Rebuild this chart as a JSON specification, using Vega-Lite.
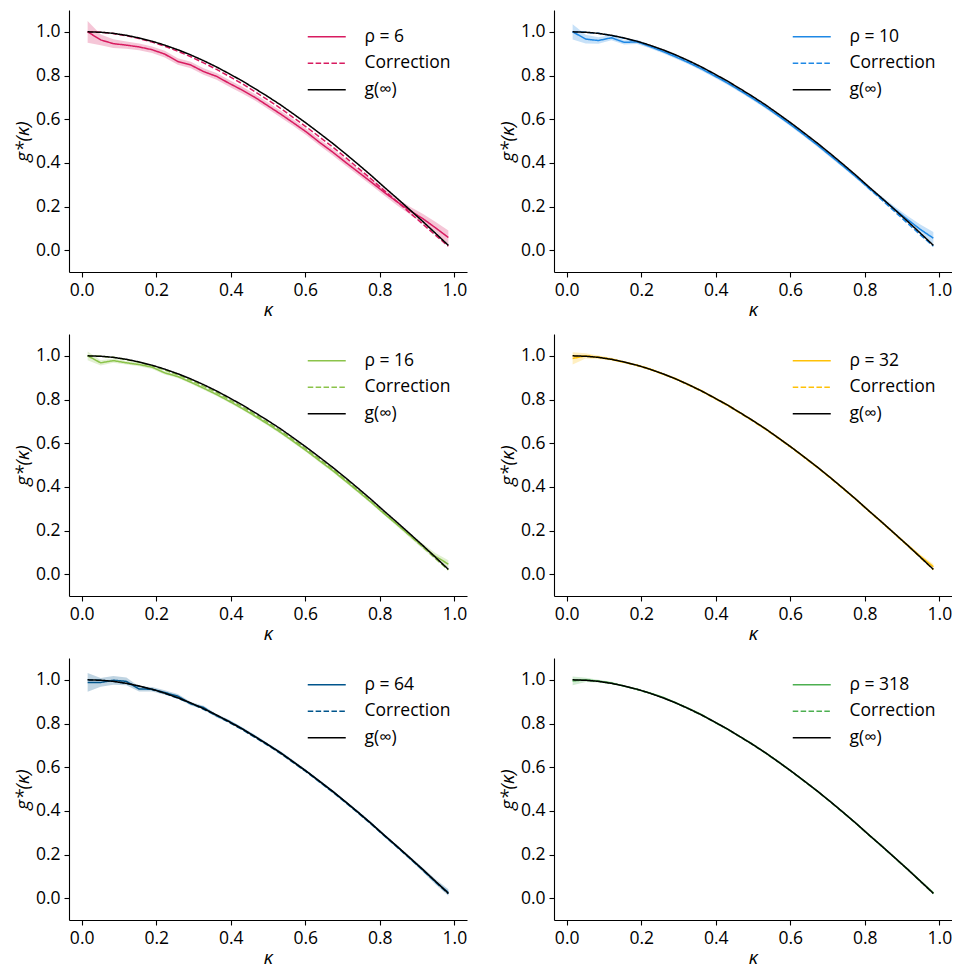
{
"$schema":"https://vega.github.io/schema/vega-lite/v6.json",
"padding":{"left":13,"top":10,"right":0,"bottom":6},
"columns":2,
"bounds":"flush",
"spacing":{"row":62,"column":87},
"data":{"values":[
{"p":1,"k":0.016,"g":1.000,"lo":0.950,"hi":1.050,"c":1.000,"inf":1.000},
{"p":1,"k":0.051,"g":0.963,"lo":0.938,"hi":0.988,"c":0.998,"inf":0.998},
{"p":1,"k":0.085,"g":0.946,"lo":0.926,"hi":0.966,"c":0.992,"inf":0.993},
{"p":1,"k":0.120,"g":0.939,"lo":0.922,"hi":0.956,"c":0.982,"inf":0.984},
{"p":1,"k":0.154,"g":0.931,"lo":0.916,"hi":0.946,"c":0.969,"inf":0.972},
{"p":1,"k":0.189,"g":0.918,"lo":0.903,"hi":0.933,"c":0.953,"inf":0.957},
{"p":1,"k":0.223,"g":0.898,"lo":0.883,"hi":0.913,"c":0.934,"inf":0.939},
{"p":1,"k":0.258,"g":0.864,"lo":0.849,"hi":0.879,"c":0.911,"inf":0.918},
{"p":1,"k":0.293,"g":0.848,"lo":0.833,"hi":0.863,"c":0.886,"inf":0.894},
{"p":1,"k":0.327,"g":0.818,"lo":0.803,"hi":0.833,"c":0.858,"inf":0.868},
{"p":1,"k":0.362,"g":0.796,"lo":0.781,"hi":0.811,"c":0.828,"inf":0.839},
{"p":1,"k":0.396,"g":0.764,"lo":0.749,"hi":0.779,"c":0.796,"inf":0.808},
{"p":1,"k":0.431,"g":0.733,"lo":0.718,"hi":0.748,"c":0.762,"inf":0.775},
{"p":1,"k":0.465,"g":0.700,"lo":0.685,"hi":0.715,"c":0.726,"inf":0.740},
{"p":1,"k":0.500,"g":0.661,"lo":0.646,"hi":0.676,"c":0.688,"inf":0.703},
{"p":1,"k":0.535,"g":0.622,"lo":0.607,"hi":0.637,"c":0.648,"inf":0.664},
{"p":1,"k":0.569,"g":0.582,"lo":0.567,"hi":0.597,"c":0.606,"inf":0.623},
{"p":1,"k":0.604,"g":0.540,"lo":0.525,"hi":0.555,"c":0.563,"inf":0.580},
{"p":1,"k":0.638,"g":0.494,"lo":0.479,"hi":0.509,"c":0.519,"inf":0.536},
{"p":1,"k":0.673,"g":0.450,"lo":0.435,"hi":0.465,"c":0.473,"inf":0.490},
{"p":1,"k":0.707,"g":0.404,"lo":0.389,"hi":0.419,"c":0.426,"inf":0.443},
{"p":1,"k":0.742,"g":0.358,"lo":0.343,"hi":0.373,"c":0.376,"inf":0.393},
{"p":1,"k":0.777,"g":0.312,"lo":0.297,"hi":0.327,"c":0.326,"inf":0.342},
{"p":1,"k":0.811,"g":0.266,"lo":0.251,"hi":0.281,"c":0.274,"inf":0.290},
{"p":1,"k":0.846,"g":0.222,"lo":0.206,"hi":0.238,"c":0.223,"inf":0.238},
{"p":1,"k":0.880,"g":0.182,"lo":0.164,"hi":0.200,"c":0.172,"inf":0.186},
{"p":1,"k":0.915,"g":0.145,"lo":0.123,"hi":0.167,"c":0.120,"inf":0.132},
{"p":1,"k":0.949,"g":0.103,"lo":0.076,"hi":0.130,"c":0.069,"inf":0.078},
{"p":1,"k":0.984,"g":0.058,"lo":0.026,"hi":0.090,"c":0.018,"inf":0.022},
{"p":2,"k":0.016,"g":1.000,"lo":0.965,"hi":1.035,"c":1.000,"inf":1.000},
{"p":2,"k":0.051,"g":0.967,"lo":0.947,"hi":0.987,"c":0.998,"inf":0.998},
{"p":2,"k":0.085,"g":0.960,"lo":0.945,"hi":0.975,"c":0.993,"inf":0.993},
{"p":2,"k":0.120,"g":0.973,"lo":0.961,"hi":0.985,"c":0.983,"inf":0.984},
{"p":2,"k":0.154,"g":0.952,"lo":0.942,"hi":0.962,"c":0.971,"inf":0.972},
{"p":2,"k":0.189,"g":0.954,"lo":0.944,"hi":0.964,"c":0.955,"inf":0.957},
{"p":2,"k":0.223,"g":0.933,"lo":0.925,"hi":0.941,"c":0.937,"inf":0.939},
{"p":2,"k":0.258,"g":0.910,"lo":0.902,"hi":0.918,"c":0.915,"inf":0.918},
{"p":2,"k":0.293,"g":0.885,"lo":0.877,"hi":0.893,"c":0.891,"inf":0.894},
{"p":2,"k":0.327,"g":0.859,"lo":0.851,"hi":0.867,"c":0.864,"inf":0.868},
{"p":2,"k":0.362,"g":0.830,"lo":0.822,"hi":0.838,"c":0.835,"inf":0.839},
{"p":2,"k":0.396,"g":0.799,"lo":0.791,"hi":0.807,"c":0.803,"inf":0.808},
{"p":2,"k":0.431,"g":0.766,"lo":0.758,"hi":0.774,"c":0.770,"inf":0.775},
{"p":2,"k":0.465,"g":0.731,"lo":0.723,"hi":0.739,"c":0.735,"inf":0.740},
{"p":2,"k":0.500,"g":0.694,"lo":0.686,"hi":0.702,"c":0.697,"inf":0.703},
{"p":2,"k":0.535,"g":0.655,"lo":0.647,"hi":0.663,"c":0.658,"inf":0.664},
{"p":2,"k":0.569,"g":0.614,"lo":0.606,"hi":0.622,"c":0.617,"inf":0.623},
{"p":2,"k":0.604,"g":0.571,"lo":0.563,"hi":0.579,"c":0.574,"inf":0.580},
{"p":2,"k":0.638,"g":0.527,"lo":0.519,"hi":0.535,"c":0.530,"inf":0.536},
{"p":2,"k":0.673,"g":0.481,"lo":0.473,"hi":0.489,"c":0.484,"inf":0.490},
{"p":2,"k":0.707,"g":0.434,"lo":0.426,"hi":0.442,"c":0.437,"inf":0.443},
{"p":2,"k":0.742,"g":0.385,"lo":0.377,"hi":0.393,"c":0.387,"inf":0.393},
{"p":2,"k":0.777,"g":0.335,"lo":0.327,"hi":0.343,"c":0.336,"inf":0.342},
{"p":2,"k":0.811,"g":0.285,"lo":0.277,"hi":0.293,"c":0.283,"inf":0.290},
{"p":2,"k":0.846,"g":0.236,"lo":0.226,"hi":0.246,"c":0.230,"inf":0.238},
{"p":2,"k":0.880,"g":0.188,"lo":0.176,"hi":0.200,"c":0.177,"inf":0.186},
{"p":2,"k":0.915,"g":0.140,"lo":0.124,"hi":0.156,"c":0.123,"inf":0.132},
{"p":2,"k":0.949,"g":0.095,"lo":0.073,"hi":0.117,"c":0.070,"inf":0.078},
{"p":2,"k":0.984,"g":0.055,"lo":0.027,"hi":0.083,"c":0.018,"inf":0.022},
{"p":3,"k":0.016,"g":1.000,"lo":0.980,"hi":1.020,"c":1.000,"inf":1.000},
{"p":3,"k":0.051,"g":0.968,"lo":0.956,"hi":0.980,"c":0.998,"inf":0.998},
{"p":3,"k":0.085,"g":0.978,"lo":0.968,"hi":0.988,"c":0.993,"inf":0.993},
{"p":3,"k":0.120,"g":0.968,"lo":0.960,"hi":0.976,"c":0.983,"inf":0.984},
{"p":3,"k":0.154,"g":0.960,"lo":0.952,"hi":0.968,"c":0.970,"inf":0.972},
{"p":3,"k":0.189,"g":0.948,"lo":0.940,"hi":0.956,"c":0.954,"inf":0.957},
{"p":3,"k":0.223,"g":0.922,"lo":0.915,"hi":0.929,"c":0.935,"inf":0.939},
{"p":3,"k":0.258,"g":0.905,"lo":0.898,"hi":0.912,"c":0.913,"inf":0.918},
{"p":3,"k":0.293,"g":0.879,"lo":0.872,"hi":0.886,"c":0.888,"inf":0.894},
{"p":3,"k":0.327,"g":0.852,"lo":0.845,"hi":0.859,"c":0.861,"inf":0.868},
{"p":3,"k":0.362,"g":0.823,"lo":0.816,"hi":0.830,"c":0.832,"inf":0.839},
{"p":3,"k":0.396,"g":0.792,"lo":0.785,"hi":0.799,"c":0.800,"inf":0.808},
{"p":3,"k":0.431,"g":0.759,"lo":0.752,"hi":0.766,"c":0.767,"inf":0.775},
{"p":3,"k":0.465,"g":0.724,"lo":0.717,"hi":0.731,"c":0.731,"inf":0.740},
{"p":3,"k":0.500,"g":0.687,"lo":0.680,"hi":0.694,"c":0.694,"inf":0.703},
{"p":3,"k":0.535,"g":0.648,"lo":0.641,"hi":0.655,"c":0.655,"inf":0.664},
{"p":3,"k":0.569,"g":0.607,"lo":0.600,"hi":0.614,"c":0.614,"inf":0.623},
{"p":3,"k":0.604,"g":0.564,"lo":0.557,"hi":0.571,"c":0.571,"inf":0.580},
{"p":3,"k":0.638,"g":0.520,"lo":0.513,"hi":0.527,"c":0.527,"inf":0.536},
{"p":3,"k":0.673,"g":0.475,"lo":0.468,"hi":0.482,"c":0.481,"inf":0.490},
{"p":3,"k":0.707,"g":0.428,"lo":0.421,"hi":0.435,"c":0.434,"inf":0.443},
{"p":3,"k":0.742,"g":0.379,"lo":0.372,"hi":0.386,"c":0.384,"inf":0.393},
{"p":3,"k":0.777,"g":0.329,"lo":0.322,"hi":0.336,"c":0.333,"inf":0.342},
{"p":3,"k":0.811,"g":0.278,"lo":0.271,"hi":0.285,"c":0.281,"inf":0.290},
{"p":3,"k":0.846,"g":0.228,"lo":0.220,"hi":0.236,"c":0.230,"inf":0.238},
{"p":3,"k":0.880,"g":0.178,"lo":0.168,"hi":0.188,"c":0.178,"inf":0.186},
{"p":3,"k":0.915,"g":0.128,"lo":0.116,"hi":0.140,"c":0.125,"inf":0.132},
{"p":3,"k":0.949,"g":0.082,"lo":0.067,"hi":0.097,"c":0.072,"inf":0.078},
{"p":3,"k":0.984,"g":0.046,"lo":0.028,"hi":0.064,"c":0.019,"inf":0.022},
{"p":4,"k":0.016,"g":0.988,"lo":0.960,"hi":1.016,"c":1.000,"inf":1.000},
{"p":4,"k":0.051,"g":1.000,"lo":0.988,"hi":1.012,"c":0.998,"inf":0.998},
{"p":4,"k":0.085,"g":0.994,"lo":0.986,"hi":1.002,"c":0.993,"inf":0.993},
{"p":4,"k":0.120,"g":0.985,"lo":0.979,"hi":0.991,"c":0.984,"inf":0.984},
{"p":4,"k":0.154,"g":0.971,"lo":0.966,"hi":0.976,"c":0.971,"inf":0.972},
{"p":4,"k":0.189,"g":0.957,"lo":0.952,"hi":0.962,"c":0.956,"inf":0.957},
{"p":4,"k":0.223,"g":0.940,"lo":0.935,"hi":0.945,"c":0.938,"inf":0.939},
{"p":4,"k":0.258,"g":0.917,"lo":0.912,"hi":0.922,"c":0.917,"inf":0.918},
{"p":4,"k":0.293,"g":0.895,"lo":0.890,"hi":0.900,"c":0.893,"inf":0.894},
{"p":4,"k":0.327,"g":0.868,"lo":0.863,"hi":0.873,"c":0.866,"inf":0.868},
{"p":4,"k":0.362,"g":0.840,"lo":0.835,"hi":0.845,"c":0.837,"inf":0.839},
{"p":4,"k":0.396,"g":0.808,"lo":0.803,"hi":0.813,"c":0.806,"inf":0.808},
{"p":4,"k":0.431,"g":0.776,"lo":0.771,"hi":0.781,"c":0.773,"inf":0.775},
{"p":4,"k":0.465,"g":0.740,"lo":0.735,"hi":0.745,"c":0.738,"inf":0.740},
{"p":4,"k":0.500,"g":0.703,"lo":0.698,"hi":0.708,"c":0.701,"inf":0.703},
{"p":4,"k":0.535,"g":0.664,"lo":0.659,"hi":0.669,"c":0.662,"inf":0.664},
{"p":4,"k":0.569,"g":0.623,"lo":0.618,"hi":0.628,"c":0.621,"inf":0.623},
{"p":4,"k":0.604,"g":0.580,"lo":0.575,"hi":0.585,"c":0.578,"inf":0.580},
{"p":4,"k":0.638,"g":0.536,"lo":0.531,"hi":0.541,"c":0.534,"inf":0.536},
{"p":4,"k":0.673,"g":0.490,"lo":0.485,"hi":0.495,"c":0.488,"inf":0.490},
{"p":4,"k":0.707,"g":0.443,"lo":0.438,"hi":0.448,"c":0.441,"inf":0.443},
{"p":4,"k":0.742,"g":0.393,"lo":0.388,"hi":0.398,"c":0.391,"inf":0.393},
{"p":4,"k":0.777,"g":0.342,"lo":0.337,"hi":0.347,"c":0.340,"inf":0.342},
{"p":4,"k":0.811,"g":0.290,"lo":0.285,"hi":0.295,"c":0.288,"inf":0.290},
{"p":4,"k":0.846,"g":0.238,"lo":0.233,"hi":0.243,"c":0.236,"inf":0.238},
{"p":4,"k":0.880,"g":0.186,"lo":0.181,"hi":0.191,"c":0.184,"inf":0.186},
{"p":4,"k":0.915,"g":0.133,"lo":0.127,"hi":0.139,"c":0.130,"inf":0.132},
{"p":4,"k":0.949,"g":0.082,"lo":0.074,"hi":0.090,"c":0.076,"inf":0.078},
{"p":4,"k":0.984,"g":0.034,"lo":0.022,"hi":0.046,"c":0.021,"inf":0.022},
{"p":5,"k":0.016,"g":0.988,"lo":0.945,"hi":1.031,"c":1.000,"inf":1.000},
{"p":5,"k":0.051,"g":0.988,"lo":0.968,"hi":1.008,"c":0.998,"inf":0.998},
{"p":5,"k":0.085,"g":0.998,"lo":0.978,"hi":1.018,"c":0.993,"inf":0.993},
{"p":5,"k":0.120,"g":0.993,"lo":0.975,"hi":1.011,"c":0.984,"inf":0.984},
{"p":5,"k":0.154,"g":0.958,"lo":0.946,"hi":0.970,"c":0.971,"inf":0.972},
{"p":5,"k":0.189,"g":0.957,"lo":0.947,"hi":0.967,"c":0.956,"inf":0.957},
{"p":5,"k":0.223,"g":0.942,"lo":0.932,"hi":0.952,"c":0.938,"inf":0.939},
{"p":5,"k":0.258,"g":0.925,"lo":0.915,"hi":0.935,"c":0.916,"inf":0.918},
{"p":5,"k":0.293,"g":0.890,"lo":0.882,"hi":0.898,"c":0.892,"inf":0.894},
{"p":5,"k":0.327,"g":0.873,"lo":0.865,"hi":0.881,"c":0.865,"inf":0.868},
{"p":5,"k":0.362,"g":0.836,"lo":0.828,"hi":0.844,"c":0.836,"inf":0.839},
{"p":5,"k":0.396,"g":0.810,"lo":0.803,"hi":0.817,"c":0.805,"inf":0.808},
{"p":5,"k":0.431,"g":0.776,"lo":0.769,"hi":0.783,"c":0.772,"inf":0.775},
{"p":5,"k":0.465,"g":0.741,"lo":0.734,"hi":0.748,"c":0.737,"inf":0.740},
{"p":5,"k":0.500,"g":0.703,"lo":0.696,"hi":0.710,"c":0.700,"inf":0.703},
{"p":5,"k":0.535,"g":0.665,"lo":0.658,"hi":0.672,"c":0.661,"inf":0.664},
{"p":5,"k":0.569,"g":0.623,"lo":0.616,"hi":0.630,"c":0.620,"inf":0.623},
{"p":5,"k":0.604,"g":0.580,"lo":0.573,"hi":0.587,"c":0.577,"inf":0.580},
{"p":5,"k":0.638,"g":0.535,"lo":0.528,"hi":0.542,"c":0.533,"inf":0.536},
{"p":5,"k":0.673,"g":0.490,"lo":0.483,"hi":0.497,"c":0.487,"inf":0.490},
{"p":5,"k":0.707,"g":0.442,"lo":0.435,"hi":0.449,"c":0.440,"inf":0.443},
{"p":5,"k":0.742,"g":0.393,"lo":0.386,"hi":0.400,"c":0.390,"inf":0.393},
{"p":5,"k":0.777,"g":0.342,"lo":0.335,"hi":0.349,"c":0.339,"inf":0.342},
{"p":5,"k":0.811,"g":0.289,"lo":0.282,"hi":0.296,"c":0.287,"inf":0.290},
{"p":5,"k":0.846,"g":0.237,"lo":0.230,"hi":0.244,"c":0.235,"inf":0.238},
{"p":5,"k":0.880,"g":0.185,"lo":0.177,"hi":0.193,"c":0.183,"inf":0.186},
{"p":5,"k":0.915,"g":0.131,"lo":0.121,"hi":0.141,"c":0.129,"inf":0.132},
{"p":5,"k":0.949,"g":0.076,"lo":0.064,"hi":0.088,"c":0.075,"inf":0.078},
{"p":5,"k":0.984,"g":0.026,"lo":0.011,"hi":0.041,"c":0.020,"inf":0.022},
{"p":6,"k":0.016,"g":0.995,"lo":0.975,"hi":1.015,"c":1.000,"inf":1.000},
{"p":6,"k":0.051,"g":1.000,"lo":0.990,"hi":1.010,"c":0.998,"inf":0.998},
{"p":6,"k":0.085,"g":0.994,"lo":0.988,"hi":1.000,"c":0.993,"inf":0.993},
{"p":6,"k":0.120,"g":0.986,"lo":0.981,"hi":0.991,"c":0.984,"inf":0.984},
{"p":6,"k":0.154,"g":0.971,"lo":0.967,"hi":0.975,"c":0.972,"inf":0.972},
{"p":6,"k":0.189,"g":0.956,"lo":0.952,"hi":0.960,"c":0.957,"inf":0.957},
{"p":6,"k":0.223,"g":0.940,"lo":0.936,"hi":0.944,"c":0.939,"inf":0.939},
{"p":6,"k":0.258,"g":0.920,"lo":0.916,"hi":0.924,"c":0.918,"inf":0.918},
{"p":6,"k":0.293,"g":0.895,"lo":0.891,"hi":0.899,"c":0.894,"inf":0.894},
{"p":6,"k":0.327,"g":0.869,"lo":0.865,"hi":0.873,"c":0.867,"inf":0.868},
{"p":6,"k":0.362,"g":0.841,"lo":0.837,"hi":0.845,"c":0.838,"inf":0.839},
{"p":6,"k":0.396,"g":0.808,"lo":0.804,"hi":0.812,"c":0.807,"inf":0.808},
{"p":6,"k":0.431,"g":0.775,"lo":0.771,"hi":0.779,"c":0.774,"inf":0.775},
{"p":6,"k":0.465,"g":0.740,"lo":0.736,"hi":0.744,"c":0.739,"inf":0.740},
{"p":6,"k":0.500,"g":0.704,"lo":0.700,"hi":0.708,"c":0.702,"inf":0.703},
{"p":6,"k":0.535,"g":0.664,"lo":0.660,"hi":0.668,"c":0.663,"inf":0.664},
{"p":6,"k":0.569,"g":0.624,"lo":0.620,"hi":0.628,"c":0.622,"inf":0.623},
{"p":6,"k":0.604,"g":0.580,"lo":0.576,"hi":0.584,"c":0.579,"inf":0.580},
{"p":6,"k":0.638,"g":0.536,"lo":0.532,"hi":0.540,"c":0.535,"inf":0.536},
{"p":6,"k":0.673,"g":0.490,"lo":0.486,"hi":0.494,"c":0.489,"inf":0.490},
{"p":6,"k":0.707,"g":0.443,"lo":0.439,"hi":0.447,"c":0.442,"inf":0.443},
{"p":6,"k":0.742,"g":0.393,"lo":0.389,"hi":0.397,"c":0.392,"inf":0.393},
{"p":6,"k":0.777,"g":0.342,"lo":0.338,"hi":0.346,"c":0.341,"inf":0.342},
{"p":6,"k":0.811,"g":0.290,"lo":0.286,"hi":0.294,"c":0.289,"inf":0.290},
{"p":6,"k":0.846,"g":0.238,"lo":0.234,"hi":0.242,"c":0.237,"inf":0.238},
{"p":6,"k":0.880,"g":0.186,"lo":0.182,"hi":0.190,"c":0.185,"inf":0.186},
{"p":6,"k":0.915,"g":0.133,"lo":0.129,"hi":0.137,"c":0.131,"inf":0.132},
{"p":6,"k":0.949,"g":0.079,"lo":0.074,"hi":0.084,"c":0.077,"inf":0.078},
{"p":6,"k":0.984,"g":0.024,"lo":0.018,"hi":0.030,"c":0.021,"inf":0.022}
]},
"resolve":{"scale":{"color":"independent","strokeDash":"independent","x":"independent","y":"independent"},"legend":{"color":"independent","strokeDash":"independent"}},
"concat":[
{"width":398,"height":262,"transform":[{"filter":"datum.p==1"}],"layer":[
 {"mark":{"type":"area","color":"#D81B60","opacity":0.25},"encoding":{"x":{"field":"k","type":"quantitative","scale":{"domain":[-0.034,1.034],"nice":false,"zero":false},"axis":{"values":[0,0.2,0.4,0.6,0.8,1],"format":".1f","title":"κ"}},"y":{"field":"lo","type":"quantitative","scale":{"domain":[-0.1,1.1],"nice":false,"zero":false},"axis":{"values":[0,0.2,0.4,0.6,0.8,1],"format":".1f","title":"g*(κ)"}},"y2":{"field":"hi"}}},
 {"transform":[{"fold":["g","c","inf"],"as":["s","v"]}],"mark":{"type":"line","strokeWidth":1.5},"encoding":{"x":{"field":"k","type":"quantitative"},"y":{"field":"v","type":"quantitative"},
  "color":{"field":"s","type":"nominal","scale":{"domain":["g","c","inf"],"range":["#D81B60","#D81B60","#000000"]},"legend":{"labelExpr":"datum.label=='g'?'ρ = 6':datum.label=='c'?'Correction':'g(∞)'"}},
  "strokeDash":{"field":"s","type":"nominal","scale":{"domain":["g","c","inf"],"range":[[1,0],[5.5,2.4],[1,0]]},"legend":{"labelExpr":"datum.label=='g'?'ρ = 6':datum.label=='c'?'Correction':'g(∞)'"}}}}
]},
{"width":398,"height":262,"transform":[{"filter":"datum.p==2"}],"layer":[
 {"mark":{"type":"area","color":"#1E88E5","opacity":0.25},"encoding":{"x":{"field":"k","type":"quantitative","scale":{"domain":[-0.034,1.034],"nice":false,"zero":false},"axis":{"values":[0,0.2,0.4,0.6,0.8,1],"format":".1f","title":"κ"}},"y":{"field":"lo","type":"quantitative","scale":{"domain":[-0.1,1.1],"nice":false,"zero":false},"axis":{"values":[0,0.2,0.4,0.6,0.8,1],"format":".1f","title":"g*(κ)"}},"y2":{"field":"hi"}}},
 {"transform":[{"fold":["g","c","inf"],"as":["s","v"]}],"mark":{"type":"line","strokeWidth":1.5},"encoding":{"x":{"field":"k","type":"quantitative"},"y":{"field":"v","type":"quantitative"},
  "color":{"field":"s","type":"nominal","scale":{"domain":["g","c","inf"],"range":["#1E88E5","#1E88E5","#000000"]},"legend":{"labelExpr":"datum.label=='g'?'ρ = 10':datum.label=='c'?'Correction':'g(∞)'"}},
  "strokeDash":{"field":"s","type":"nominal","scale":{"domain":["g","c","inf"],"range":[[1,0],[5.5,2.4],[1,0]]},"legend":{"labelExpr":"datum.label=='g'?'ρ = 10':datum.label=='c'?'Correction':'g(∞)'"}}}}
]},
{"width":398,"height":262,"transform":[{"filter":"datum.p==3"}],"layer":[
 {"mark":{"type":"area","color":"#8BC34A","opacity":0.25},"encoding":{"x":{"field":"k","type":"quantitative","scale":{"domain":[-0.034,1.034],"nice":false,"zero":false},"axis":{"values":[0,0.2,0.4,0.6,0.8,1],"format":".1f","title":"κ"}},"y":{"field":"lo","type":"quantitative","scale":{"domain":[-0.1,1.1],"nice":false,"zero":false},"axis":{"values":[0,0.2,0.4,0.6,0.8,1],"format":".1f","title":"g*(κ)"}},"y2":{"field":"hi"}}},
 {"transform":[{"fold":["g","c","inf"],"as":["s","v"]}],"mark":{"type":"line","strokeWidth":1.5},"encoding":{"x":{"field":"k","type":"quantitative"},"y":{"field":"v","type":"quantitative"},
  "color":{"field":"s","type":"nominal","scale":{"domain":["g","c","inf"],"range":["#8BC34A","#8BC34A","#000000"]},"legend":{"labelExpr":"datum.label=='g'?'ρ = 16':datum.label=='c'?'Correction':'g(∞)'"}},
  "strokeDash":{"field":"s","type":"nominal","scale":{"domain":["g","c","inf"],"range":[[1,0],[5.5,2.4],[1,0]]},"legend":{"labelExpr":"datum.label=='g'?'ρ = 16':datum.label=='c'?'Correction':'g(∞)'"}}}}
]},
{"width":398,"height":262,"transform":[{"filter":"datum.p==4"}],"layer":[
 {"mark":{"type":"area","color":"#FFC107","opacity":0.25},"encoding":{"x":{"field":"k","type":"quantitative","scale":{"domain":[-0.034,1.034],"nice":false,"zero":false},"axis":{"values":[0,0.2,0.4,0.6,0.8,1],"format":".1f","title":"κ"}},"y":{"field":"lo","type":"quantitative","scale":{"domain":[-0.1,1.1],"nice":false,"zero":false},"axis":{"values":[0,0.2,0.4,0.6,0.8,1],"format":".1f","title":"g*(κ)"}},"y2":{"field":"hi"}}},
 {"transform":[{"fold":["g","c","inf"],"as":["s","v"]}],"mark":{"type":"line","strokeWidth":1.5},"encoding":{"x":{"field":"k","type":"quantitative"},"y":{"field":"v","type":"quantitative"},
  "color":{"field":"s","type":"nominal","scale":{"domain":["g","c","inf"],"range":["#FFC107","#FFC107","#000000"]},"legend":{"labelExpr":"datum.label=='g'?'ρ = 32':datum.label=='c'?'Correction':'g(∞)'"}},
  "strokeDash":{"field":"s","type":"nominal","scale":{"domain":["g","c","inf"],"range":[[1,0],[5.5,2.4],[1,0]]},"legend":{"labelExpr":"datum.label=='g'?'ρ = 32':datum.label=='c'?'Correction':'g(∞)'"}}}}
]},
{"width":398,"height":262,"transform":[{"filter":"datum.p==5"}],"layer":[
 {"mark":{"type":"area","color":"#00558C","opacity":0.25},"encoding":{"x":{"field":"k","type":"quantitative","scale":{"domain":[-0.034,1.034],"nice":false,"zero":false},"axis":{"values":[0,0.2,0.4,0.6,0.8,1],"format":".1f","title":"κ"}},"y":{"field":"lo","type":"quantitative","scale":{"domain":[-0.1,1.1],"nice":false,"zero":false},"axis":{"values":[0,0.2,0.4,0.6,0.8,1],"format":".1f","title":"g*(κ)"}},"y2":{"field":"hi"}}},
 {"transform":[{"fold":["g","c","inf"],"as":["s","v"]}],"mark":{"type":"line","strokeWidth":1.5},"encoding":{"x":{"field":"k","type":"quantitative"},"y":{"field":"v","type":"quantitative"},
  "color":{"field":"s","type":"nominal","scale":{"domain":["g","c","inf"],"range":["#00558C","#00558C","#000000"]},"legend":{"labelExpr":"datum.label=='g'?'ρ = 64':datum.label=='c'?'Correction':'g(∞)'"}},
  "strokeDash":{"field":"s","type":"nominal","scale":{"domain":["g","c","inf"],"range":[[1,0],[5.5,2.4],[1,0]]},"legend":{"labelExpr":"datum.label=='g'?'ρ = 64':datum.label=='c'?'Correction':'g(∞)'"}}}}
]},
{"width":398,"height":262,"transform":[{"filter":"datum.p==6"}],"layer":[
 {"mark":{"type":"area","color":"#4CAF50","opacity":0.25},"encoding":{"x":{"field":"k","type":"quantitative","scale":{"domain":[-0.034,1.034],"nice":false,"zero":false},"axis":{"values":[0,0.2,0.4,0.6,0.8,1],"format":".1f","title":"κ"}},"y":{"field":"lo","type":"quantitative","scale":{"domain":[-0.1,1.1],"nice":false,"zero":false},"axis":{"values":[0,0.2,0.4,0.6,0.8,1],"format":".1f","title":"g*(κ)"}},"y2":{"field":"hi"}}},
 {"transform":[{"fold":["g","c","inf"],"as":["s","v"]}],"mark":{"type":"line","strokeWidth":1.5},"encoding":{"x":{"field":"k","type":"quantitative"},"y":{"field":"v","type":"quantitative"},
  "color":{"field":"s","type":"nominal","scale":{"domain":["g","c","inf"],"range":["#4CAF50","#4CAF50","#000000"]},"legend":{"labelExpr":"datum.label=='g'?'ρ = 318':datum.label=='c'?'Correction':'g(∞)'"}},
  "strokeDash":{"field":"s","type":"nominal","scale":{"domain":["g","c","inf"],"range":[[1,0],[5.5,2.4],[1,0]]},"legend":{"labelExpr":"datum.label=='g'?'ρ = 318':datum.label=='c'?'Correction':'g(∞)'"}}}}
]}
],
"config":{
 "font":"Open Sans",
 "view":{"stroke":null},
 "axis":{"grid":false,"domainColor":"#000000","tickColor":"#000000","domainWidth":1.1,"tickWidth":1.1,"tickSize":5,"labelFontSize":17.5,"labelColor":"#000000","labelPadding":4,"labelFont":"Open Sans","titleFont":"Open Sans","titleFontSize":19,"titleFontStyle":"italic","titleFontWeight":"normal","titleColor":"#000000","labelFlush":false,"labelOverlap":false},
 "axisX":{"titlePadding":2},
 "axisY":{"titlePadding":3},
 "legend":{"title":null,"orient":"none","legendX":249,"legendY":18,"symbolType":"M-3.8,0H3.8","symbolSize":100,"symbolStrokeWidth":1.5,"labelFontSize":17.5,"labelFont":"Open Sans","labelColor":"#000000","labelOffset":29,"rowPadding":7.5,"padding":0,"labelLimit":0}
}
}
